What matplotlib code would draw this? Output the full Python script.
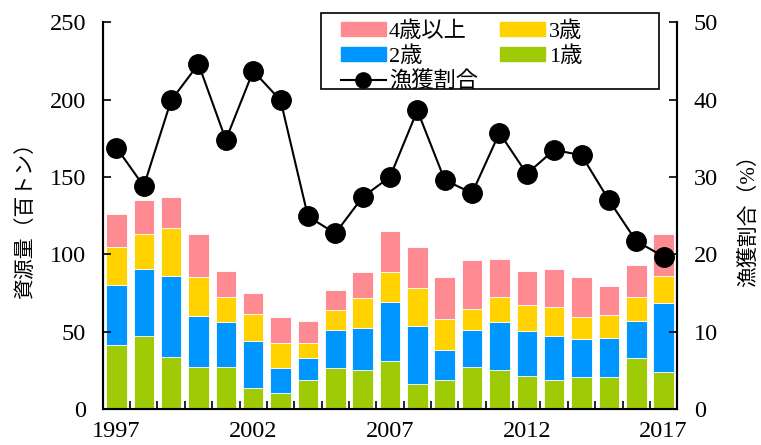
import numpy as np
import matplotlib
matplotlib.use("Agg")
import matplotlib.pyplot as plt
from matplotlib.patches import Patch, Rectangle
from matplotlib.lines import Line2D

plt.rcParams['font.family'] = ['Liberation Serif', 'Noto Sans CJK JP']

years = np.arange(1997, 2018)
# 資源量 (百トン) 年齢別
age1 = [41.6, 47.4, 33.8, 27.3, 27.3, 13.8, 10.6, 18.4, 26.2, 25.1, 30.7,
        16.2, 18.4, 27.3, 25.1, 21.6, 18.4, 20.6, 20.6, 32.9, 24.0]
age2 = [38.7, 42.9, 52.1, 33.1, 28.7, 29.9, 15.6, 14.3, 25.1, 27.5, 38.6,
        37.5, 19.9, 24.0, 30.9, 28.6, 28.5, 24.4, 25.3, 24.2, 44.4]
age3 = [24.4, 22.5, 31.4, 24.6, 16.7, 18.0, 16.5, 10.2, 12.8, 19.0, 19.0,
        24.7, 20.1, 13.6, 16.7, 17.1, 19.1, 14.3, 14.7, 15.6, 17.8]
age4 = [21.3, 22.2, 19.9, 27.8, 16.7, 13.2, 16.6, 14.2, 12.9, 16.7, 26.6,
        26.6, 26.6, 31.2, 24.5, 22.1, 24.5, 25.7, 18.8, 20.2, 26.6]
# 漁獲割合 (%)
harvest = [33.8, 28.8, 39.9, 44.6, 34.8, 43.7, 39.9, 24.9, 22.7, 27.4, 30.0,
           38.6, 29.6, 27.9, 35.7, 30.4, 33.5, 32.8, 27.0, 21.7, 19.7]

labels = ['4歳以上', '3歳', '2歳', '1歳', '漁獲割合']
c_pink, c_yel, c_blue, c_green = '#FF8B92', '#FFD200', '#0096FF', '#9ECA06'

fig = plt.figure(figsize=(7.61, 4.45), dpi=100)
ax = fig.add_axes([0.135, 0.081, 0.755, 0.869])

w = 0.75
a1 = np.array(age1); a2 = np.array(age2); a3 = np.array(age3); a4 = np.array(age4)
ax.bar(years, a1, w, color=c_green, edgecolor='white', linewidth=0.6)
ax.bar(years, a2, w, bottom=a1, color=c_blue, edgecolor='white', linewidth=0.6)
ax.bar(years, a3, w, bottom=a1 + a2, color=c_yel, edgecolor='white', linewidth=0.6)
ax.bar(years, a4, w, bottom=a1 + a2 + a3, color=c_pink, edgecolor='white', linewidth=0.6)

ax.set_xlim(1996.5, 2017.5)
ax.set_ylim(0, 250)
ax.set_yticks(np.arange(0, 251, 50))
ax.set_xticks([1997, 2002, 2007, 2012, 2017])
ax.set_xticks(np.arange(1997.5, 2017, 1), minor=True)
ax.tick_params(axis='x', which='major', length=0, pad=9, labelsize=17.5)
ax.tick_params(axis='x', which='minor', direction='in', length=6, width=1.2)
ax.tick_params(axis='y', direction='in', length=6, width=1.2, pad=12, labelsize=17.5)
ax.spines['top'].set_visible(False)
for s in ['left', 'bottom', 'right']:
    ax.spines[s].set_linewidth(1.5)
ax.set_ylabel('資源量（百トン）', fontsize=15, labelpad=10)

ax2 = ax.twinx()
ax2.plot(years, harvest, color='black', lw=1.5, marker='o', markersize=14)
ax2.set_ylim(0, 50)
ax2.set_yticks(np.arange(0, 51, 10))
ax2.tick_params(axis='y', direction='in', length=6, width=1.2, pad=12, labelsize=17.5)
ax2.spines['top'].set_visible(False)
ax2.spines['right'].set_linewidth(1.5)
ax2.set_ylabel('漁獲割合（%）', fontsize=15, labelpad=15)

# legend frame drawn separately (wide box like the original)
fig.patches.append(Rectangle((0.4214, 0.800), 0.4446, 0.1715, transform=fig.transFigure,
                             facecolor='white', edgecolor='black', linewidth=1.2,
                             zorder=5))

handles = [Patch(color=c_pink), Patch(color=c_blue),
           Line2D([], [], color='black', lw=1.5, marker='o', markersize=11),
           Patch(color=c_yel), Patch(color=c_green)]
names = [labels[0], labels[2], labels[4], labels[1], labels[3]]
leg = fig.legend(handles, names, ncol=2, loc='upper left',
                 bbox_to_anchor=(0.433, 0.977), fontsize=16,
                 handlelength=2.03, handleheight=0.59, handletextpad=0.15,
                 labelspacing=0.19, columnspacing=1.0, borderpad=0.0,
                 frameon=False)
leg.set_zorder(6)

fig.savefig('out.png', dpi=100)
